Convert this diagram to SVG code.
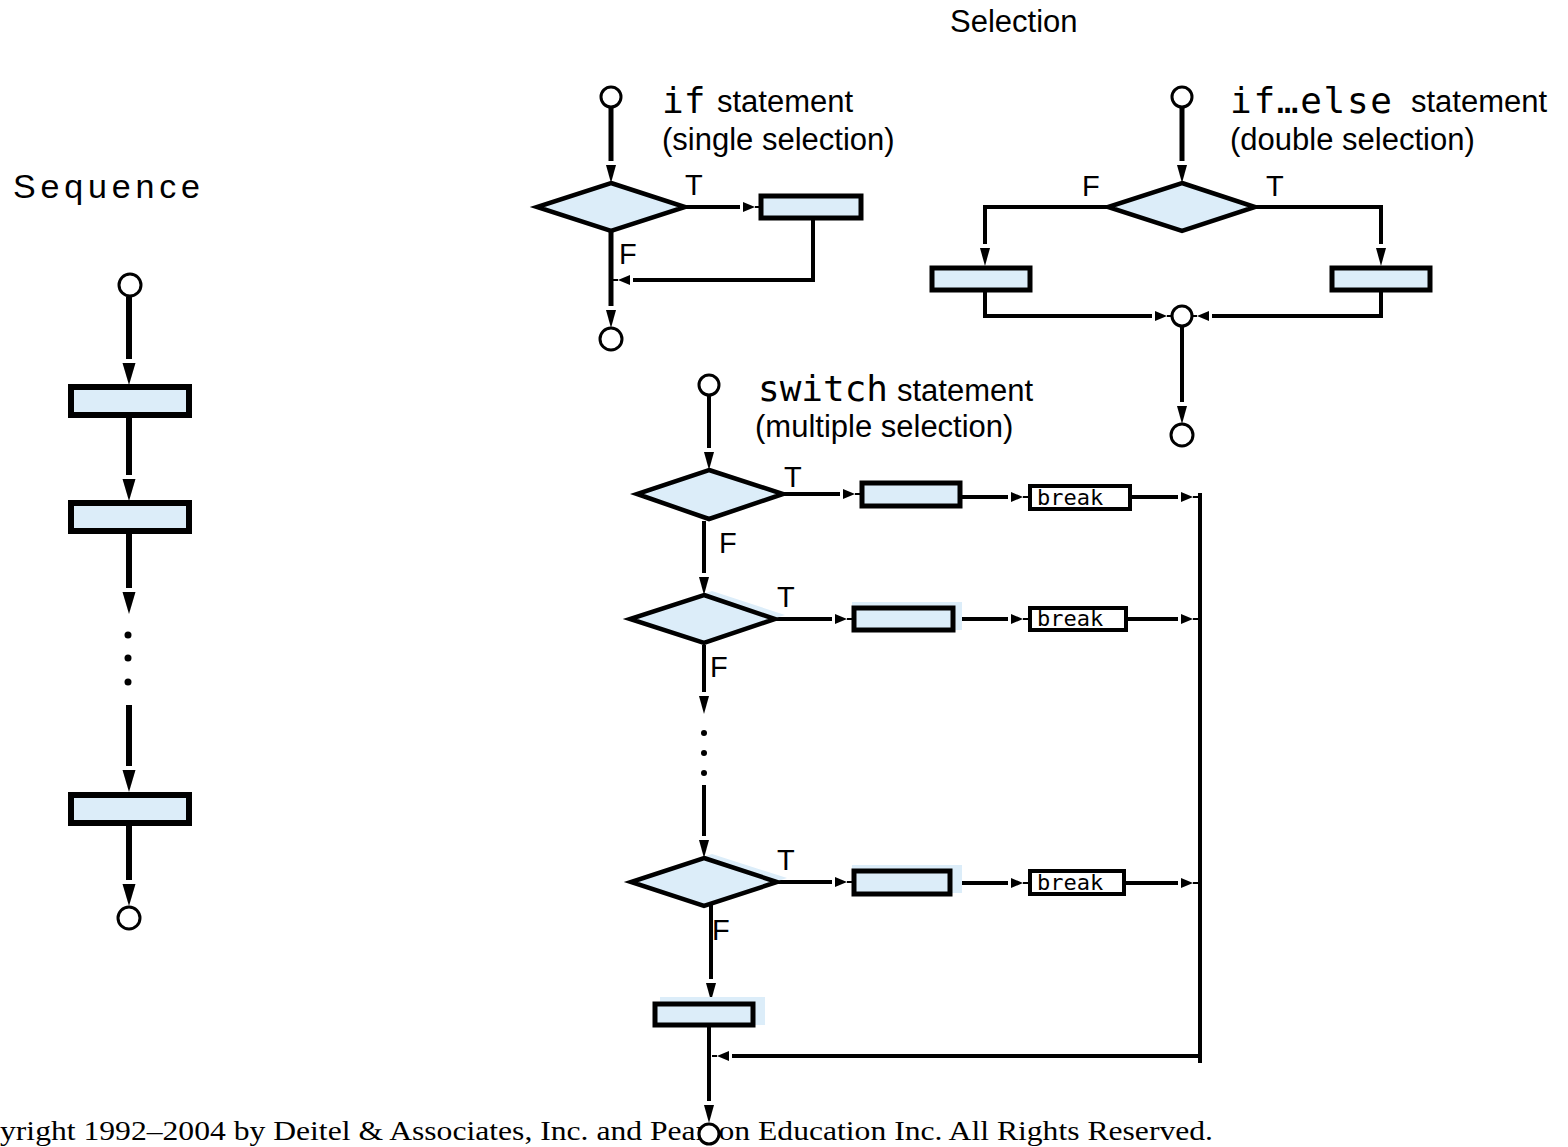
<svg xmlns="http://www.w3.org/2000/svg" width="1568" height="1147" viewBox="0 0 1568 1147">
<style>
.box{fill:#dcedf9;stroke:#000;stroke-width:5}
.sbox{fill:#dcedf9;stroke:#000;stroke-width:6}
.shadow{fill:#dcedf9;stroke:none}
.brk{fill:#fff;stroke:#000;stroke-width:4}
.dia{fill:#dcedf9;stroke:#000;stroke-width:4.5;stroke-linejoin:miter}
.node{fill:#fff;stroke:#000;stroke-width:3}
.ln{fill:none;stroke:#000;stroke-width:4}
.lnT{fill:none;stroke:#000;stroke-width:5}
.lnS{fill:none;stroke:#000;stroke-width:6}
.lab{font-family:"Liberation Sans",Arial,sans-serif;font-size:31px;fill:#000}
.tf{font-family:"Liberation Sans",Arial,sans-serif;font-size:29px;fill:#000}
.code{font-family:"DejaVu Sans Mono","Liberation Mono",monospace;font-size:36px;fill:#000}
.bk{font-family:"DejaVu Sans Mono","Liberation Mono",monospace;font-size:22px;fill:#000}
.copy{font-family:"Liberation Serif","Times New Roman",serif;font-size:27px;fill:#000}
</style>
<defs>
<marker id="aS" markerUnits="userSpaceOnUse" orient="auto" refX="0" refY="0" markerWidth="30" markerHeight="16" viewBox="0 -8 30 16" overflow="visible">
<path d="M4,-6.5 L26,0 L4,6.5 Z" fill="#000"/>
</marker>
<marker id="aV" markerUnits="userSpaceOnUse" orient="auto" refX="0" refY="0" markerWidth="24" markerHeight="12" viewBox="0 -6 24 12" overflow="visible">
<path d="M4,-5 L22,0 L4,5 Z" fill="#000"/>
</marker>
<marker id="aH" markerUnits="userSpaceOnUse" orient="auto" refX="0" refY="0" markerWidth="24" markerHeight="12" viewBox="0 -6 24 12" overflow="visible">
<path d="M3,-5 L15,0 L3,5 Z M15,-1 H20 V1 H15 Z" fill="#000"/>
</marker>
</defs>

<!-- titles -->
<text class="lab" x="950" y="32">Selection</text>
<text class="lab" x="13" y="198" style="font-size:34px" textLength="187" lengthAdjust="spacing">Sequence</text>
<text class="copy" x="0" y="1140" textLength="1213" lengthAdjust="spacingAndGlyphs">yright 1992–2004 by Deitel &amp; Associates, Inc. and Pearson Education Inc. All Rights Reserved.</text>

<!-- connectors -->
<g id="connectors">
  <!-- sequence -->
  <line class="lnS" x1="129" y1="297" x2="129" y2="359" marker-end="url(#aS)"/>
  <line class="lnS" x1="129" y1="418" x2="129" y2="475" marker-end="url(#aS)"/>
  <line class="lnS" x1="129" y1="534" x2="129" y2="588" marker-end="url(#aS)"/>
  <line class="lnS" x1="129" y1="705" x2="129" y2="766" marker-end="url(#aS)"/>
  <line class="lnS" x1="129" y1="826" x2="129" y2="880" marker-end="url(#aS)"/>
  <circle cx="128" cy="635" r="3.5" fill="#000"/>
  <circle cx="128" cy="658" r="3.5" fill="#000"/>
  <circle cx="128" cy="682" r="3.5" fill="#000"/>

  <!-- if -->
  <line class="lnT" x1="611" y1="108" x2="611" y2="161" marker-end="url(#aV)"/>
  <line class="ln" x1="685" y1="207" x2="740" y2="207" marker-end="url(#aH)"/>
  <polyline class="ln" points="813,220 813,280 633,280" marker-end="url(#aH)"/>
  <line class="lnT" x1="611" y1="231" x2="611" y2="306" marker-end="url(#aV)"/>

  <!-- if...else -->
  <line class="lnT" x1="1182" y1="108" x2="1182" y2="161" marker-end="url(#aV)"/>
  <polyline class="ln" points="1108,207 985,207 985,244" marker-end="url(#aV)"/>
  <polyline class="ln" points="1255,207 1381,207 1381,244" marker-end="url(#aV)"/>
  <polyline class="ln" points="985,292 985,316 1152,316" marker-end="url(#aH)"/>
  <polyline class="ln" points="1381,292 1381,316 1212,316" marker-end="url(#aH)"/>
  <line class="ln" x1="1182" y1="326" x2="1182" y2="402" marker-end="url(#aV)"/>

  <!-- switch -->
  <line class="ln" x1="709" y1="396" x2="709" y2="448" marker-end="url(#aV)"/>
  <line class="ln" x1="783" y1="494" x2="840" y2="494" marker-end="url(#aH)"/>
  <line class="ln" x1="962" y1="497" x2="1008" y2="497" marker-end="url(#aH)"/>
  <line class="ln" x1="1132" y1="497" x2="1178" y2="497" marker-end="url(#aH)"/>
  <line class="ln" x1="704" y1="521" x2="704" y2="573" marker-end="url(#aV)"/>

  <line class="ln" x1="775" y1="619" x2="832" y2="619" marker-end="url(#aH)"/>
  <line class="ln" x1="955" y1="619" x2="1008" y2="619" marker-end="url(#aH)"/>
  <line class="ln" x1="1128" y1="619" x2="1178" y2="619" marker-end="url(#aH)"/>
  <line class="ln" x1="704" y1="645" x2="704" y2="692" marker-end="url(#aV)"/>
  <circle cx="704" cy="733" r="3" fill="#000"/>
  <circle cx="704" cy="753" r="3" fill="#000"/>
  <circle cx="704" cy="773" r="3" fill="#000"/>
  <line class="ln" x1="704" y1="785" x2="704" y2="836" marker-end="url(#aV)"/>

  <line class="ln" x1="777" y1="882" x2="832" y2="882" marker-end="url(#aH)"/>
  <line class="ln" x1="952" y1="883" x2="1008" y2="883" marker-end="url(#aH)"/>
  <line class="ln" x1="1126" y1="883" x2="1178" y2="883" marker-end="url(#aH)"/>
  <line class="ln" x1="711" y1="904" x2="711" y2="979" marker-end="url(#aV)"/>

  <line class="ln" x1="709" y1="1027" x2="709" y2="1101" marker-end="url(#aV)"/>
  <line class="ln" x1="1200" y1="493" x2="1200" y2="1063"/>
  <line class="ln" x1="1202" y1="1056" x2="732" y2="1056" marker-end="url(#aH)"/>
</g>

<!-- sequence nodes -->
<g id="seq-start"><circle class="node" cx="130" cy="285" r="11"/></g>
<g id="seq-act1"><rect class="sbox" x="71" y="387" width="118" height="28"/></g>
<g id="seq-act2"><rect class="sbox" x="71" y="503" width="118" height="28"/></g>
<g id="seq-act3"><rect class="sbox" x="71" y="795" width="118" height="28"/></g>
<g id="seq-end"><circle class="node" cx="129" cy="918" r="11"/></g>

<!-- if statement -->
<g id="if-start"><circle class="node" cx="611" cy="97" r="10"/></g>
<g id="if-label">
  <text class="code" x="662" y="113">if</text>
  <text class="lab" x="717" y="112">statement</text>
  <text class="lab" x="662" y="150">(single selection)</text>
</g>
<g id="if-decision">
  <polygon class="dia" points="611,183 685,207 611,231 537,207"/>
  <text class="tf" x="685" y="195">T</text>
  <text class="tf" x="619" y="264">F</text>
</g>
<g id="if-action"><rect class="box" x="761" y="196" width="100" height="22"/></g>
<g id="if-end"><circle class="node" cx="611" cy="339" r="11"/></g>

<!-- if...else statement -->
<g id="ifelse-start"><circle class="node" cx="1182" cy="97" r="10"/></g>
<g id="ifelse-label">
  <text class="code" x="1230" y="113" textLength="162" lengthAdjust="spacing">if…else</text>
  <text class="lab" x="1411" y="112">statement</text>
  <text class="lab" x="1230" y="150">(double selection)</text>
</g>
<g id="ifelse-decision">
  <polygon class="dia" points="1182,183 1255,207 1182,231 1108,207"/>
  <text class="tf" x="1082" y="196">F</text>
  <text class="tf" x="1266" y="196">T</text>
</g>
<g id="ifelse-false"><rect class="box" x="932" y="268" width="98" height="22"/></g>
<g id="ifelse-true"><rect class="box" x="1332" y="268" width="98" height="22"/></g>
<g id="ifelse-merge"><circle class="node" cx="1182" cy="316" r="10"/></g>
<g id="ifelse-end"><circle class="node" cx="1182" cy="435" r="11"/></g>

<!-- switch statement -->
<g id="sw-start"><circle class="node" cx="709" cy="385" r="10"/></g>
<g id="sw-label">
  <text class="code" x="758" y="401">switch</text>
  <text class="lab" x="897" y="401">statement</text>
  <text class="lab" x="755" y="437">(multiple selection)</text>
</g>
<g id="sw-case1">
  <polygon class="dia" points="709,470 783,494 709,519 637,494"/>
  <text class="tf" x="784" y="487">T</text>
  <text class="tf" x="719" y="553">F</text>
</g>
<g id="sw-act1"><rect class="box" x="862" y="483" width="98" height="23"/></g>
<g id="sw-break1">
  <rect class="brk" x="1030" y="486" width="100" height="23"/>
  <text class="bk" x="1037" y="505">break</text>
</g>
<g id="sw-case2">
  <polygon class="shadow" points="712,591 785,615 712,639 638,615"/>
  <polygon class="dia" points="704,595 775,619 704,643 630,619"/>
  <text class="tf" x="777" y="607">T</text>
  <text class="tf" x="710" y="677">F</text>
</g>
<g id="sw-act2">
  <rect class="shadow" x="852" y="602" width="110" height="28"/>
  <rect class="box" x="854" y="608" width="99" height="22"/>
</g>
<g id="sw-break2">
  <rect class="brk" x="1030" y="608" width="96" height="22"/>
  <text class="bk" x="1037" y="626">break</text>
</g>
<g id="sw-case3">
  <polygon class="shadow" points="712,854 787,878 712,902 639,878"/>
  <polygon class="dia" points="704,858 777,882 704,906 631,882"/>
  <text class="tf" x="777" y="870">T</text>
  <text class="tf" x="712" y="940">F</text>
</g>
<g id="sw-act3">
  <rect class="shadow" x="852" y="865" width="110" height="28"/>
  <rect class="box" x="854" y="871" width="96" height="23"/>
</g>
<g id="sw-break3">
  <rect class="brk" x="1030" y="871" width="94" height="23"/>
  <text class="bk" x="1037" y="890">break</text>
</g>
<g id="sw-default">
  <rect class="shadow" x="660" y="997" width="105" height="28"/>
  <rect class="box" x="655" y="1004" width="98" height="21"/>
</g>
<g id="sw-end"><circle class="node" cx="709" cy="1134" r="10"/></g>
</svg>
